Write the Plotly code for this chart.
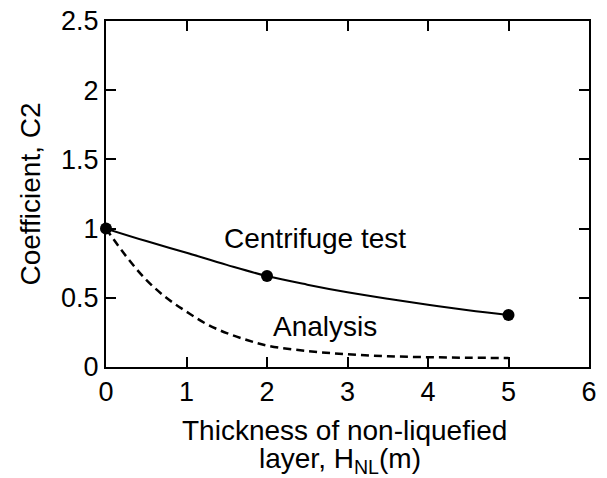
import plotly.graph_objects as go

# Centrifuge test data (measured points)
test_x = [0, 2, 5]
test_y = [1.0, 0.657, 0.375]

# Smooth curve through the centrifuge test points
test_curve_x = [0, 0.5, 1, 1.5, 2, 2.5, 3, 3.5, 4, 4.5, 5]
test_curve_y = [1.0, 0.91, 0.825, 0.738, 0.657, 0.595, 0.54, 0.493, 0.45, 0.41, 0.375]

# Analysis curve (dashed)
ana_x = [0, 0.25, 0.5, 0.75, 1, 1.25, 1.5, 1.75, 2, 2.5, 3, 3.5, 4, 4.5, 5]
ana_y = [1.0, 0.80, 0.63, 0.50, 0.40, 0.31, 0.245, 0.195, 0.155, 0.115, 0.092, 0.078, 0.071, 0.067, 0.065]

x_ticks = [0, 1, 2, 3, 4, 5, 6]
y_ticks = [0, 0.5, 1, 1.5, 2, 2.5]
y_tick_labels = ["0", "0.5", "1", "1.5", "2", "2.5"]

x_title_lines = ["Thickness of non-liquefied", "layer, H<sub>NL</sub>(m)"]
y_title = "Coefficient, C2"

FONT = "Liberation Sans, Arial, Helvetica, sans-serif"

fig = go.Figure()
fig.add_trace(go.Scatter(x=ana_x, y=ana_y, mode="lines",
                         line=dict(color="black", width=2.5, dash="8px,5px", shape="spline"),
                         showlegend=False, hoverinfo="skip"))
fig.add_trace(go.Scatter(x=test_curve_x, y=test_curve_y, mode="lines",
                         line=dict(color="black", width=2, shape="spline"),
                         showlegend=False, hoverinfo="skip"))
fig.add_trace(go.Scatter(x=test_x, y=test_y, mode="markers",
                         marker=dict(color="black", size=12),
                         showlegend=False, cliponaxis=False))

fig.add_annotation(x=2.6, y=0.93, text="Centrifuge test", showarrow=False,
                   font=dict(family=FONT, size=28, color="black"))
fig.add_annotation(x=2.72, y=0.29, text="Analysis", showarrow=False,
                   font=dict(family=FONT, size=28, color="black"))

# x-axis title as two separately placed lines (tighter line spacing as in the original)
fig.add_annotation(xref="paper", yref="paper", x=0.494, y=-0.184, text=x_title_lines[0],
                   xanchor="center", yanchor="middle",
                   showarrow=False, font=dict(family=FONT, size=28, color="black"))
fig.add_annotation(xref="paper", yref="paper", x=0.484, y=-0.269, text=x_title_lines[1],
                   xanchor="center", yanchor="middle",
                   showarrow=False, font=dict(family=FONT, size=28, color="black"))

fig.update_layout(
    width=607, height=478,
    margin=dict(l=106, r=18, t=21, b=111),
    paper_bgcolor="white", plot_bgcolor="white",
    font=dict(family=FONT, size=27, color="black"),
)
fig.update_xaxes(range=[0, 6], tickvals=x_ticks, ticks="inside", ticklen=10, tickwidth=2,
                 tickcolor="black", showline=True, linecolor="black", linewidth=2,
                 mirror="ticks", showgrid=False, zeroline=False, automargin=False,
                 tickfont=dict(size=27))
fig.update_yaxes(range=[0, 2.5], tickvals=y_ticks, ticktext=y_tick_labels, ticks="inside",
                 ticklen=10, tickwidth=2, tickcolor="black", showline=True, linecolor="black",
                 linewidth=2, mirror="ticks", showgrid=False, zeroline=False, automargin=False,
                 tickfont=dict(size=27),
                 title=dict(text=y_title, font=dict(size=28), standoff=12))

fig.write_html("out.html", config={"displayModeBar": False},
               post_script="document.body.style.margin='0';")
